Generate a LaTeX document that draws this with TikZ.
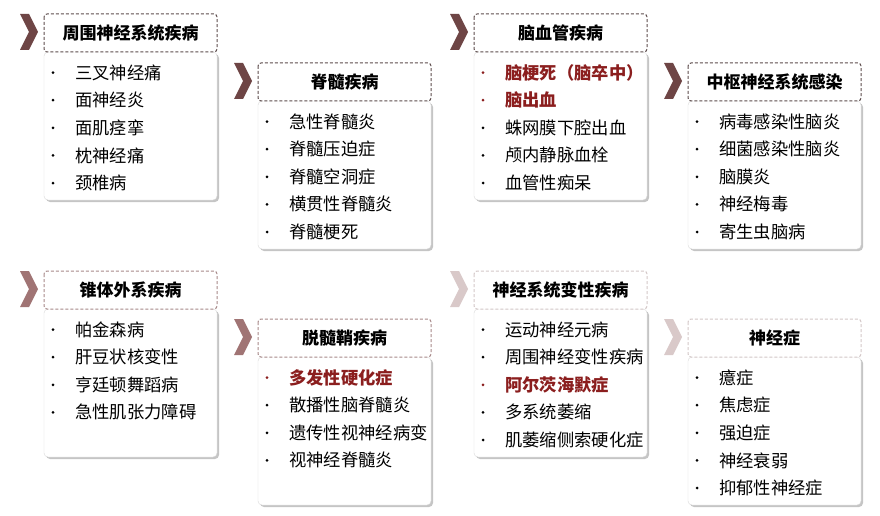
\documentclass[tikz,border=0pt]{standalone}
\usepackage{fontspec}
\setmainfont{Noto Sans CJK SC}
\usetikzlibrary{shadows}
\definecolor{ca}{HTML}{6E4545}
\definecolor{da}{HTML}{5E4E4E}
\definecolor{cb}{HTML}{A07474}
\definecolor{db}{HTML}{A88A8A}
\definecolor{cc}{HTML}{D9C9C9}
\definecolor{dc}{HTML}{D4C8C8}
\definecolor{rd}{HTML}{8B1E1E}
\tikzset{
  hdr/.style={draw=#1,dash pattern=on 3pt off 2pt,line width=1pt,rounded corners=3pt,fill=white},
  lst/.style={draw=black!15,rounded corners=4pt,fill=white,drop shadow={shadow xshift=2pt,shadow yshift=-2pt,opacity=0.45}},
  itm/.style={anchor=west,font=\fontsize{17.3}{19}\selectfont,inner sep=0pt},
  ttl/.style={font=\fontsize{17}{19}\selectfont\bfseries,inner sep=0pt}
}
% #1 name #2 x #3 ytop #4 title #5 chevron colour #6 dash colour #7 items
\newcommand\mypanel[7]{%
  \fill[#5] (#2-24,#3) -- (#2-15,#3) -- (#2-6,#3+18) -- (#2-15,#3+36) -- (#2-24,#3+36) -- (#2-15,#3+18) -- cycle;
  \draw[lst] (#2,#3+38) rectangle (#2+173,#3+186);
  \draw[hdr=#6] (#2,#3) rectangle (#2+173,#3+38);
  \node[ttl] (#1) at (#2+86.5,#3+19) {#4};
  \foreach \t/\c [count=\i] in {#7} {
    \node[itm,text=\c] (#1-\i) at (#2+31,#3+31+27.6*\i) {\t};
    \fill[\c] (#2+9,#3+31+27.6*\i) circle (1.5pt);
  }%
}
\begin{document}
\begin{tikzpicture}[x=1pt,y=-1pt]
\fill[white] (0,0) rectangle (880,516);
\mypanel{a}{44}{14}{周围神经系统疾病}{ca}{da}{三叉神经痛/black,面神经炎/black,面肌痉挛/black,枕神经痛/black,颈椎病/black}
\mypanel{b}{258}{63}{脊髓疾病}{ca}{da}{急性脊髓炎/black,脊髓压迫症/black,脊髓空洞症/black,横贯性脊髓炎/black,脊髓梗死/black}
\mypanel{c}{474}{14}{脑血管疾病}{ca}{da}{\bfseries 脑梗死（脑卒中）/rd,\bfseries 脑出血/rd,蛛网膜下腔出血/black,颅内静脉血栓/black,血管性痴呆/black}
\mypanel{d}{688}{63}{中枢神经系统感染}{ca}{da}{病毒感染性脑炎/black,细菌感染性脑炎/black,脑膜炎/black,神经梅毒/black,寄生虫脑病/black}
\mypanel{e}{44}{271}{锥体外系疾病}{cb}{db}{帕金森病/black,肝豆状核变性/black,亨廷顿舞蹈病/black,急性肌张力障碍/black}
\mypanel{f}{258}{319}{脱髓鞘疾病}{cb}{db}{\bfseries 多发性硬化症/rd,散播性脑脊髓炎/black,遗传性视神经病变/black,视神经脊髓炎/black}
\mypanel{g}{474}{271}{神经系统变性疾病}{cc}{dc}{运动神经元病/black,周围神经变性疾病/black,\bfseries 阿尔茨海默症/rd,多系统萎缩/black,肌萎缩侧索硬化症/black}
\mypanel{h}{688}{319}{神经症}{cc}{dc}{癔症/black,焦虑症/black,强迫症/black,神经衰弱/black,抑郁性神经症/black}
\end{tikzpicture}
\end{document}
